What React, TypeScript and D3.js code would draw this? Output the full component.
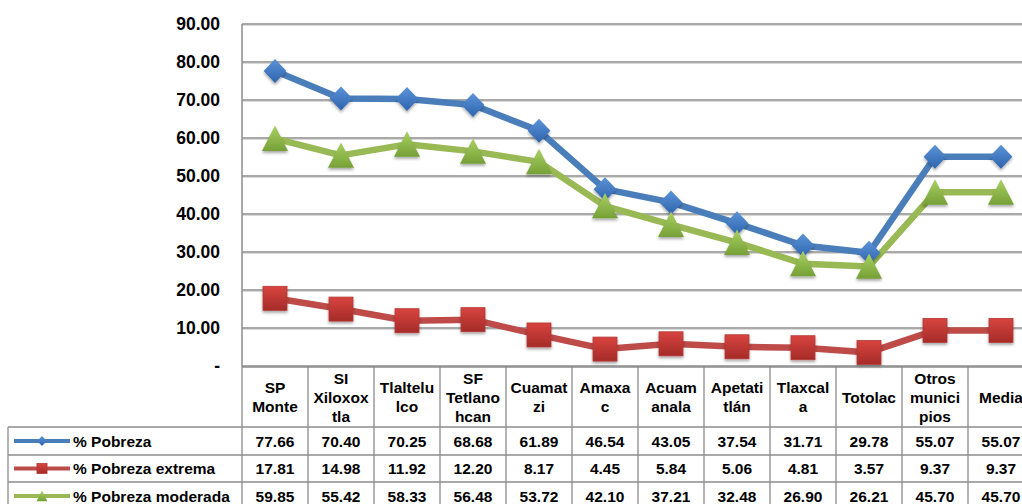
import React from "react";
import * as d3 from "d3";

const categories = [
  "SP Monte", "SI Xiloxoxtla", "Tlaltelulco", "SF Tetlanohcan", "Cuamatzi", "Amaxac",
  "Acuamanala", "Apetatitlán", "Tlaxcala", "Totolac", "Otros municipios", "Media",
];
const headerLines = [
  ["SP", "Monte"], ["SI", "Xiloxox", "tla"], ["Tlaltelu", "lco"], ["SF", "Tetlano", "hcan"],
  ["Cuamat", "zi"], ["Amaxa", "c"], ["Acuam", "anala"], ["Apetati", "tlán"], ["Tlaxcal", "a"],
  ["Totolac"], ["Otros", "munici", "pios"], ["Media"],
];
const pobreza = [77.66, 70.4, 70.25, 68.68, 61.89, 46.54, 43.05, 37.54, 31.71, 29.78, 55.07, 55.07];
const extrema = [17.81, 14.98, 11.92, 12.2, 8.17, 4.45, 5.84, 5.06, 4.81, 3.57, 9.37, 9.37];
const moderada = [59.85, 55.42, 58.33, 56.48, 53.72, 42.1, 37.21, 32.48, 26.9, 26.21, 45.7, 45.7];
const yTicks = [0, 10, 20, 30, 40, 50, 60, 70, 80, 90];
const seriesNames = ["% Pobreza", "% Pobreza extrema", "% Pobreza moderada"];

const W = 1022, H = 504;
const left = 242, colW = 66;
const top = 24, zeroY = 366;
const font = "'Liberation Sans', Arial, sans-serif";

export default function App() {
  if (typeof document !== "undefined") document.body.style.margin = "0";
  const x = d3.scaleBand<string>().domain(categories).range([left, left + colW * categories.length]).padding(0);
  const y = d3.scaleLinear().domain([0, 90]).range([zeroY, top]);
  const cx = (i: number) => (x(categories[i]) as number) + x.bandwidth() / 2;
  const line = d3.line<number>().x((_, i) => cx(i)).y((d) => y(d));

  const series = [
    { name: seriesNames[0], data: pobreza, color: "#4A7EBB", grad: "gB", kind: "diamond" },
    { name: seriesNames[1], data: extrema, color: "#BE4B48", grad: "gR", kind: "square" },
    { name: seriesNames[2], data: moderada, color: "#98B954", grad: "gG", kind: "triangle" },
  ];

  const marker = (kind: string, px: number, py: number, grad: string, s = 1, key?: any) => {
    if (kind === "diamond") {
      const r = 12 * s;
      return <path key={key} d={`M${px},${py - r}L${px + r * 0.95},${py}L${px},${py + r}L${px - r * 0.95},${py}Z`} fill={`url(#${grad})`} filter={s === 1 ? "url(#sh)" : undefined} />;
    }
    if (kind === "square") {
      const h = 12 * s;
      return <rect key={key} x={px - h} y={py - h} width={2 * h} height={2 * h} fill={`url(#${grad})`} stroke="#B33A36" strokeWidth={0.8} filter={s === 1 ? "url(#sh)" : undefined} />;
    }
    const w = 13 * s, hh = 13 * s;
    return <path key={key} d={`M${px},${py - hh}L${px + w},${py + hh * 0.95}L${px - w},${py + hh * 0.95}Z`} fill={`url(#${grad})`} filter={s === 1 ? "url(#sh)" : undefined} />;
  };

  const headerTop = 367, headerBot = 427;
  const rowYs = [427, 455, 482, 510];
  const tableRight = left + colW * categories.length;
  const data = [pobreza, extrema, moderada];

  return (
    <svg width={W} height={H} style={{ display: "block", background: "#fff" }} fontFamily={font}>
      <defs>
        <linearGradient id="gB" x1="0" y1="0" x2="0" y2="1">
          <stop offset="0" stopColor="#5B93D8" />
          <stop offset="1" stopColor="#2E64AD" />
        </linearGradient>
        <linearGradient id="gR" x1="0" y1="0" x2="0" y2="1">
          <stop offset="0" stopColor="#D8443F" />
          <stop offset="1" stopColor="#A52B28" />
        </linearGradient>
        <linearGradient id="gG" x1="0" y1="0" x2="0" y2="1">
          <stop offset="0" stopColor="#A9D063" />
          <stop offset="1" stopColor="#76A036" />
        </linearGradient>
        <filter id="sh" x="-50%" y="-50%" width="200%" height="200%">
          <feDropShadow dx="0" dy="2" stdDeviation="1.6" floodColor="#000" floodOpacity="0.35" />
        </filter>
      </defs>

      {/* gridlines */}
      {yTicks.filter((t) => t > 0).map((t) => (
        <g key={t}>
          <line x1={left} x2={W} y1={y(t) + 1.5} y2={y(t) + 1.5} stroke="#D9D9D9" strokeWidth={1} />
          <line x1={left} x2={W} y1={y(t)} y2={y(t)} stroke="#8C8C8C" strokeWidth={1.3} />
        </g>
      ))}
      {/* y axis */}
      <line x1={left} x2={left} y1={top} y2={zeroY} stroke="#8C8C8C" strokeWidth={1.5} />
      <line x1={left} x2={W} y1={zeroY} y2={zeroY} stroke="#8C8C8C" strokeWidth={1.5} />
      {yTicks.map((t) => (
        <text key={t} x={220} y={y(t) + 6} textAnchor="end" fontSize={17.5} fontWeight="bold" fill="#000">
          {t === 0 ? "-" : t.toFixed(2)}
        </text>
      ))}

      {/* lines */}
      {series.map((s) => (
        <path key={s.name} d={line(s.data) || ""} fill="none" stroke={s.color} strokeWidth={6.5} strokeLinejoin="round" />
      ))}
      {series.map((s) => (
        <g key={s.name + "m"}>{s.data.map((v, i) => marker(s.kind, cx(i), y(v), s.grad, 1, i))}</g>
      ))}

      {/* table */}
      <g stroke="#8C8C8C" strokeWidth={1.3} fill="none">
        <line x1={left} x2={tableRight} y1={headerTop} y2={headerTop} />
        {categories.map((c, i) => (
          <line key={c} x1={(x(c) as number)} x2={(x(c) as number)} y1={zeroY} y2={H} />
        ))}
        <line x1={tableRight} x2={tableRight} y1={zeroY} y2={H} />
        {rowYs.slice(0, 3).map((ry) => (
          <line key={ry} x1={8} x2={tableRight} y1={ry} y2={ry} />
        ))}
        <line x1={8} x2={8} y1={headerBot} y2={H} />
      </g>
      {headerLines.map((lines, i) => {
        const mid = (headerTop + headerBot) / 2;
        const lh = 19;
        const start = mid - ((lines.length - 1) * lh) / 2 + 5.5;
        return (
          <text key={i} textAnchor="middle" fontSize={15.5} fontWeight="bold" fill="#000">
            {lines.map((l, j) => (
              <tspan key={j} x={cx(i)} y={start + j * lh}>{l}</tspan>
            ))}
          </text>
        );
      })}
      {series.map((s, r) => {
        const ry = (rowYs[r] + rowYs[r + 1]) / 2;
        return (
          <g key={s.name + "row"}>
            <line x1={14} x2={70} y1={ry} y2={ry} stroke={s.color} strokeWidth={4} />
            {marker(s.kind, 42, ry, s.grad, 0.42)}
            <text x={73} y={ry + 5.5} fontSize={15.5} fontWeight="bold" fill="#000">{s.name}</text>
            {data[r].map((v, i) => (
              <text key={i} x={cx(i)} y={ry + 5.5} textAnchor="middle" fontSize={15.5} fontWeight="bold" fill="#000">
                {v.toFixed(2)}
              </text>
            ))}
          </g>
        );
      })}
    </svg>
  );
}
